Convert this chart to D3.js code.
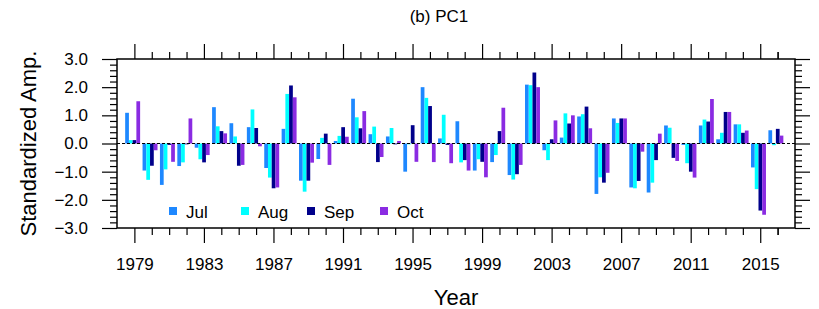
<!DOCTYPE html>
<html>
<head>
<meta charset="utf-8">
<script src="https://cdn.jsdelivr.net/npm/d3@7"></script>
<style>
  body { margin: 0; background: #fff; }
  text { font-family: "Liberation Sans", Arial, sans-serif; fill: #000; }
</style>
</head>
<body>
<div id="chart"></div>
<script>
// data
var years = d3.range(1979, 2017);
var months = ["Jul", "Aug", "Sep", "Oct"];
var colours = ["#1e88ff", "#00ffff", "#00008b", "#8a2be2"];

var jul = [1.09, -0.96, -1.47, -0.80, -0.15, 1.29, 0.72, 0.58, -0.87, 0.52,
           -1.32, -0.55, 0.09, 1.59, 0.33, 0.25, -1.00, 2.00, 0.18, 0.79,
           -0.96, -0.66, -1.12, 2.09, -0.24, 0.21, 0.96, -1.79, 0.89, -1.56,
           -1.74, 0.64, -0.05, 0.64, 0.15, 0.68, -0.85, 0.47];
var aug = [0.12, -1.29, -0.92, -0.67, -0.56, 0.61, 0.25, 1.21, -1.21, 1.76,
           -1.71, 0.20, 0.27, 0.93, 0.60, 0.55, -0.03, 1.62, 1.02, -0.67,
           -0.56, -0.41, -1.28, 2.07, -0.59, 1.07, 1.04, -1.20, 0.73, -1.59,
           -1.39, 0.56, -0.70, 0.85, 0.38, 0.68, -1.62, -0.06];
var sep = [0.12, -0.79, -0.05, -0.03, -0.67, 0.44, -0.79, 0.55, -1.59, 2.06,
           -1.32, 0.35, 0.58, 0.54, -0.66, -0.03, 0.65, 1.33, -0.05, -0.59,
           -0.65, 0.44, -1.09, 2.52, 0.15, 0.71, 1.31, -1.39, 0.89, -1.33,
           -0.59, -0.51, -1.00, 0.78, 1.12, 0.38, -2.38, 0.52];
var oct = [1.50, -0.24, -0.65, 0.89, -0.41, 0.36, -0.76, -0.10, -1.56, 1.64,
           -0.68, -0.76, 0.24, 1.15, -0.48, 0.09, -0.65, -0.66, -0.70, -0.96,
           -1.20, 1.27, -0.76, 2.00, 0.82, 1.00, 0.54, -1.04, 0.89, -0.29,
           0.35, -0.62, -1.21, 1.58, 1.12, 0.46, -2.53, 0.28];
var series = [jul, aug, sep, oct];

var yTicks = [-3, -2, -1, 0, 1, 2, 3];
var xTicks = [1979, 1983, 1987, 1991, 1995, 1999, 2003, 2007, 2011, 2015];

var width = 819, height = 309;
var pLeft = 117, pRight = 795, pTop = 59, pBottom = 228;

var svg = d3.select("#chart").append("svg")
  .attr("width", width)
  .attr("height", height);

var x = d3.scaleLinear().domain([1978, 2017]).range([pLeft, pRight]);
var y = d3.scaleLinear().domain([-3, 3]).range([pBottom, pTop]);

var barW = 0.215;   // in years
var start = -0.53;  // group start relative to the year

// bars
var g = svg.append("g");
series.forEach(function(vals, i) {
  g.selectAll(null)
    .data(vals)
    .enter()
    .append("rect")
    .attr("x", function(d, j) { return x(years[j] + start + i * barW); })
    .attr("width", x(barW) - x(0))
    .attr("y", function(d) { return y(Math.max(0, d)); })
    .attr("height", function(d) { return Math.abs(y(d) - y(0)); })
    .attr("fill", colours[i]);
});

// dashed zero line
svg.append("line")
  .attr("x1", pLeft).attr("x2", pRight)
  .attr("y1", y(0)).attr("y2", y(0))
  .attr("stroke", "#000")
  .attr("stroke-width", 1)
  .attr("stroke-dasharray", "3,2");

// axes, ticks pointing out
var xMinor = years.concat([2016]).filter(function(d) { return xTicks.indexOf(d) < 0; });
var yMinor = d3.range(-3, 3.01, 0.2).filter(function(d) { return Math.abs(d - Math.round(d)) > 0.01; });

function drawAxis(axis, tr) {
  var a = svg.append("g").attr("transform", tr).call(axis);
  a.select(".domain").remove();
  a.selectAll("line").attr("stroke", "#000").attr("stroke-width", 1.2);
  return a;
}

// bottom
drawAxis(d3.axisBottom(x).tickValues(xMinor).tickSize(7).tickFormat(""), "translate(0," + pBottom + ")");
drawAxis(d3.axisBottom(x).tickValues(xTicks).tickSize(15).tickPadding(15).tickFormat(d3.format("d")), "translate(0," + pBottom + ")")
  .selectAll("text").attr("font-size", 17);
// top
drawAxis(d3.axisTop(x).tickValues(xMinor).tickSize(7).tickFormat(""), "translate(0," + pTop + ")");
drawAxis(d3.axisTop(x).tickValues(xTicks).tickSize(15).tickFormat(""), "translate(0," + pTop + ")");
// left
drawAxis(d3.axisLeft(y).tickValues(yMinor).tickSize(7).tickFormat(""), "translate(" + pLeft + ",0)");
drawAxis(d3.axisLeft(y).tickValues(yTicks).tickSize(15).tickPadding(14).tickFormat(d3.format(".1f")), "translate(" + pLeft + ",0)")
  .selectAll("text").attr("font-size", 17);
// right
drawAxis(d3.axisRight(y).tickValues(yMinor).tickSize(7).tickFormat(""), "translate(" + pRight + ",0)");
drawAxis(d3.axisRight(y).tickValues(yTicks).tickSize(15).tickFormat(""), "translate(" + pRight + ",0)");

// frame
svg.append("rect")
  .attr("x", pLeft).attr("y", pTop)
  .attr("width", pRight - pLeft).attr("height", pBottom - pTop)
  .attr("fill", "none")
  .attr("stroke", "#000")
  .attr("stroke-width", 1.5);

// legend
var legX = [169, 241, 307, 380];
var leg = svg.append("g");
months.forEach(function(m, i) {
  leg.append("rect")
    .attr("x", legX[i]).attr("y", 207)
    .attr("width", 8).attr("height", 8)
    .attr("fill", colours[i]);
  leg.append("text")
    .attr("x", legX[i] + 17).attr("y", 218)
    .attr("font-size", 17)
    .text(m);
});

// titles
svg.append("text")
  .attr("x", 439).attr("y", 22)
  .attr("text-anchor", "middle")
  .attr("font-size", 17)
  .text("(b) PC1");

svg.append("text")
  .attr("x", (pLeft + pRight) / 2).attr("y", 305)
  .attr("text-anchor", "middle")
  .attr("font-size", 22)
  .text("Year");

svg.append("text")
  .attr("transform", "translate(36," + (pTop + pBottom) / 2 + ") rotate(-90)")
  .attr("text-anchor", "middle")
  .attr("font-size", 22)
  .text("Standardized Amp.");
</script>
</body>
</html>
